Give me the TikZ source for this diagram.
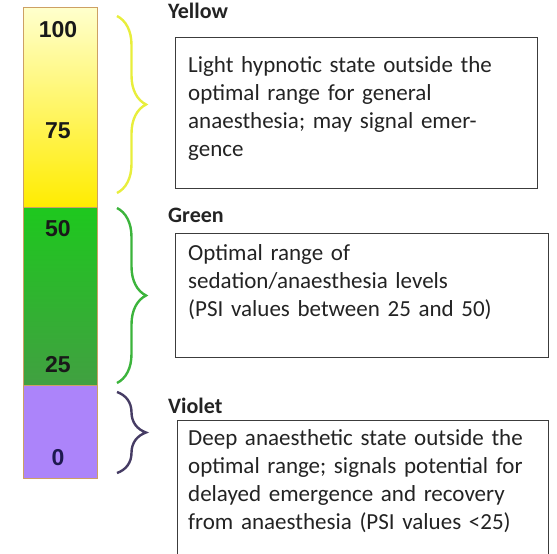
\documentclass[tikz,border=0pt]{standalone}
\usepackage{fontspec}
\setmainfont{Carlito}
\newfontfamily\numfont{Liberation Sans}
\usetikzlibrary{decorations.pathreplacing}

\definecolor{yellowtop}{RGB}{255,255,205}
\definecolor{yellowbot}{RGB}{255,236,0}
\definecolor{greentop}{RGB}{30,200,30}
\definecolor{greenbot}{RGB}{65,160,65}
\definecolor{violetband}{RGB}{172,132,250}
\definecolor{barline}{RGB}{205,160,100}
\definecolor{yellowbrace}{RGB}{232,238,60}
\definecolor{greenbrace}{RGB}{60,180,60}
\definecolor{violetbrace}{RGB}{70,60,100}
\definecolor{boxline}{RGB}{60,60,60}
\definecolor{textgrey}{RGB}{35,35,35}

\begin{document}
\begin{tikzpicture}[x=1pt,y=-1pt,
    band/.style={draw=barline, line width=0.8pt, anchor=north west, inner sep=0pt, minimum width=74pt},
    level/.style={font=\numfont\bfseries\fontsize{23}{23}\selectfont, text=black!90, inner sep=0pt},
    bandtitle/.style={font=\bfseries\fontsize{22}{25}\selectfont, text=textgrey, anchor=base west, inner sep=0pt},
    framebox/.style={draw=boxline, line width=1.3pt, anchor=north west, inner sep=0pt},
    desc/.style={font=\fontsize{23}{28.3}\selectfont, text=textgrey, anchor=base west, inner sep=0pt, align=left, text width=355pt},
    bandbrace/.style={decorate, decoration={brace, amplitude=29pt, aspect=0.5}, line width=2.4pt}]
    \useasboundingbox (0,0) rectangle (557,554);
    \clip (0,0) rectangle (557,554);

    % the scale
    \node[band, minimum height=200pt, top color=yellowtop, bottom color=yellowbot] (yband) at (23,7) {};
    \node[band, minimum height=178pt, top color=greentop, bottom color=greenbot] (gband) at (23,207) {};
    \node[band, minimum height=93pt, fill=violetband] (vband) at (23,385) {};

    \node[level] (l100) at (58,30) {100};
    \node[level] (l75) at (58,131) {75};
    \node[level] (l50) at (58,229) {50};
    \node[level] (l25) at (58,365) {25};
    \node[level, text={rgb,255:red,30;green,25;blue,80}] (l0) at (58,458) {0};

    % braces
    \coordinate (yb1) at (117,16);
    \coordinate (yb2) at (117,193);
    \coordinate (gb1) at (117,208);
    \coordinate (gb2) at (117,383);
    \coordinate (vb1) at (117,392);
    \coordinate (vb2) at (117,473);
    \draw[bandbrace, yellowbrace] (yb1) -- (yb2);
    \draw[bandbrace, greenbrace] (gb1) -- (gb2);
    \draw[bandbrace, violetbrace] (vb1) -- (vb2);

    % descriptions
    \node[bandtitle] (ytitle) at (168,18) {Yellow};
    \node[framebox, minimum width=362pt, minimum height=151pt] (yframe) at (175,37) {};
    \node[desc] (ydesc) at (188,72) {Light hypnotic state outside the\\optimal range for general\\anaesthesia; may signal emer-\\gence};

    \node[bandtitle] (gtitle) at (168,222) {Green};
    \node[framebox, minimum width=373pt, minimum height=124pt] (gframe) at (175,233) {};
    \node[desc] (gdesc) at (188,260) {Optimal range of\\sedation/anaesthesia levels\\(PSI values between 25 and 50)};

    \node[bandtitle] (vtitle) at (168,413) {Violet};
    \node[framebox, minimum width=371pt, minimum height=150pt] (vframe) at (177,420) {};
    \node[desc] (vdesc) at (188,445) {Deep anaesthetic state outside the\\optimal range; signals potential for\\delayed emergence and recovery\\from anaesthesia (PSI values <25)};
\end{tikzpicture}
\end{document}
